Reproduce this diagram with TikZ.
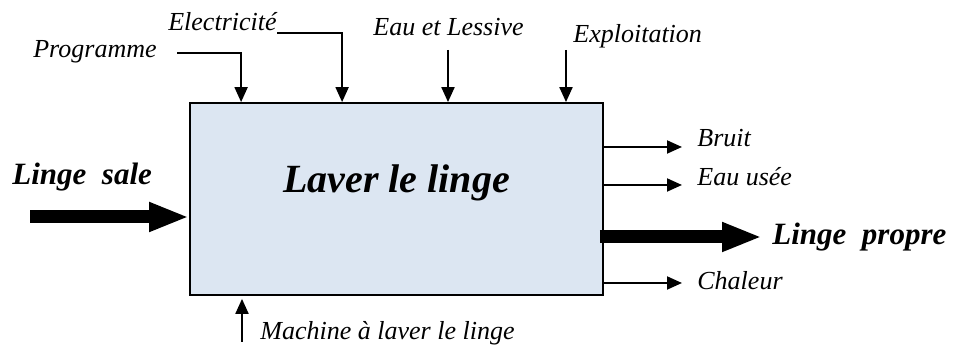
\documentclass[tikz,border=0pt]{standalone}
\usepackage{fontspec}
\setmainfont{Liberation Serif}
\usetikzlibrary{arrows.meta,positioning}
\definecolor{BoxBlue}{HTML}{DCE6F2}

\begin{document}
\begin{tikzpicture}[
      x=0.5pt,y=-0.5pt,
      box/.style={draw=black,fill=BoxBlue,line width=0.9pt,
        minimum width=206.5pt,minimum height=96pt,inner sep=0pt},
      titre/.style={font=\fontsize{20}{22}\selectfont\bfseries\itshape},
      etiq/.style={inner sep=0pt,font=\fontsize{13}{15}\selectfont\itshape},
      gras/.style={inner sep=0pt,font=\fontsize{15.5}{17}\selectfont\bfseries\itshape},
      fleche/.style={-{Triangle[length=7.5pt,width=6.5pt]},line width=1pt},
      grosse/.style={-{Triangle[length=20pt,width=13.5pt]},line width=6.5pt}
    ]
      \useasboundingbox (0,0) rectangle (955,356);
      \node[box] (laver) at (396.5,199) {};
      \node[titre,anchor=base] (nom) at (396.5,193) {Laver le linge};
      % entrees de controle
      \node[etiq,anchor=base east] (prog) at (157,58) {Programme};
      \node[etiq,anchor=base east] (elec) at (277,31) {Electricit\'e};
      \node[etiq,anchor=base west] (eau) at (373,36) {Eau et Lessive};
      \node[etiq,anchor=base west] (explo) at (573,43) {Exploitation};
      \coordinate (progdep) at (177,53);
      \coordinate (elecdep) at (277,33);
      \coordinate (eaudep) at (448,50);
      \coordinate (explodep) at (566,50);
      \draw[fleche] (progdep) -| ([xshift=26pt]laver.north west);
      \draw[fleche] (elecdep) -| ([xshift=76.5pt]laver.north west);
      \draw[fleche] (eaudep) -- (eaudep |- laver.north);
      \draw[fleche] (explodep) -- (explodep |- laver.north);
      % sorties
      \node[etiq,anchor=base west] (bruit) at (697,147) {Bruit};
      \node[etiq,anchor=base west] (eauusee) at (697,186) {Eau us\'ee};
      \node[etiq,anchor=base west] (chaleur) at (697,290) {Chaleur};
      \coordinate (bruitfin) at (682,147);
      \coordinate (eaufin) at (682,185);
      \coordinate (chalfin) at (682,283);
      \draw[fleche] (bruitfin -| laver.east) -- (bruitfin);
      \draw[fleche] (eaufin -| laver.east) -- (eaufin);
      \draw[fleche] (chalfin -| laver.east) -- (chalfin);
      % matiere d'oeuvre
      \node[gras,anchor=base west] (sale) at (12,185) {Linge\ \ sale};
      \node[gras,anchor=base west] (propre) at (772,245) {Linge\ \ propre};
      \coordinate (saledep) at (30,217);
      \coordinate (proprefin) at (762,237);
      \draw[grosse] (saledep) -- (saledep -| laver.west);
      \draw[grosse] ([xshift=-2pt]proprefin -| laver.east) -- (proprefin);
      % support
      \node[etiq,anchor=base west] (machine) at (260,340) {Machine \`a laver le linge};
      \coordinate (machdep) at (242,342);
      \draw[fleche,shorten >=1.5pt] (machdep) -- (machdep |- laver.south);
    \end{tikzpicture}
\end{document}
